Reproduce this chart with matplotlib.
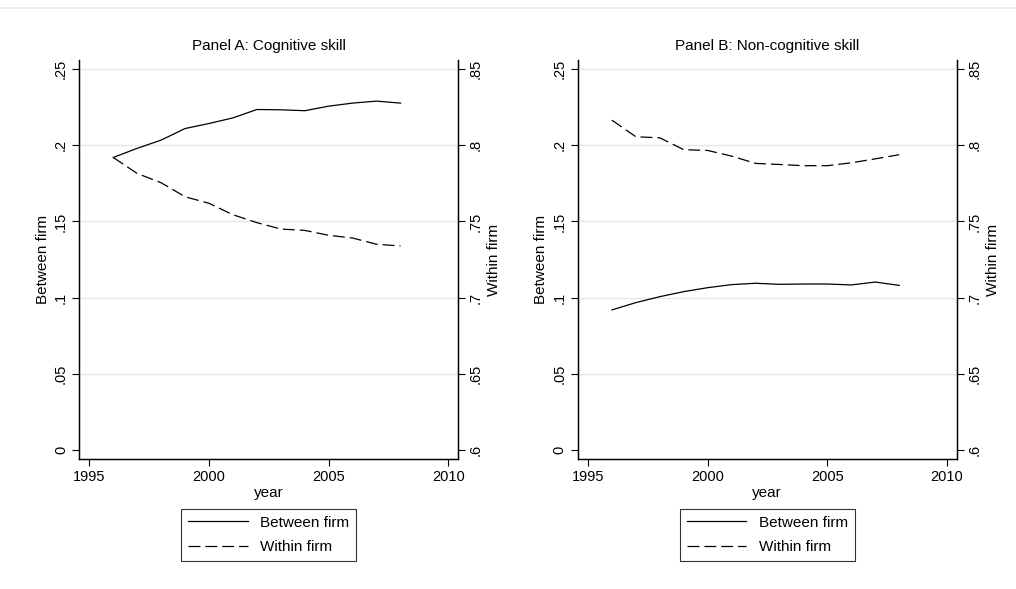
import numpy as np
import matplotlib.pyplot as plt
from matplotlib.lines import Line2D

plt.rcParams['font.family'] = ['Liberation Sans', 'DejaVu Sans']
plt.rcParams['font.size'] = 10

years = [1996, 1997, 1998, 1999, 2000, 2001, 2002, 2003, 2004, 2005, 2006, 2007, 2008]

# Panel A: cognitive skill
cog_between = [0.192, 0.198, 0.2034, 0.211, 0.2143, 0.218, 0.2235, 0.2233, 0.2227, 0.2257, 0.2277, 0.229, 0.2277]
cog_within = [0.792, 0.7815, 0.7754, 0.7662, 0.7619, 0.7544, 0.7492, 0.745, 0.7441, 0.7409, 0.7391, 0.735, 0.7339]

# Panel B: non-cognitive skill
noncog_between = [0.0919, 0.0967, 0.1006, 0.1039, 0.1065, 0.1085, 0.1094, 0.1087, 0.1089, 0.1089, 0.1083, 0.1102, 0.108]
noncog_within = [0.8165, 0.8056, 0.8049, 0.7971, 0.7966, 0.7929, 0.7881, 0.7874, 0.7866, 0.7866, 0.7885, 0.7911, 0.7938]

titles = ['Panel A: Cognitive skill', 'Panel B: Non-cognitive skill']
between_ticks = [0, 0.05, 0.1, 0.15, 0.2, 0.25]
between_labels = ['0', '.05', '.1', '.15', '.2', '.25']
within_ticks = [0.6, 0.65, 0.7, 0.75, 0.8, 0.85]
within_labels = ['.6', '.65', '.7', '.75', '.8', '.85']
year_ticks = [1995, 2000, 2005, 2010]

dash = (9.5, 4)

fig = plt.figure(figsize=(10.16, 5.89), dpi=100)
fig.add_artist(Line2D([0, 1], [1 - 8 / 589, 1 - 8 / 589], color='#e4eaee', lw=1.2))

panels = [(cog_between, cog_within), (noncog_between, noncog_within)]
lefts = [79 / 1016, 577.7 / 1016]
width = 379 / 1016
bottom = 1 - 459 / 589
height = 399 / 589

for i, (between, within) in enumerate(panels):
    ax = fig.add_axes([lefts[i], bottom, width, height])
    ax2 = ax.twinx()

    ax.set_xlim(1994.57, 2010.4)
    ax.set_ylim(-0.006, 0.256)
    ax2.set_ylim(0.594, 0.856)

    for y in between_ticks[1:]:
        ax.axhline(y, color='#e6e6e6', lw=1.0, zorder=0)

    ax.plot(years, between, color='black', lw=0.9)
    ln, = ax2.plot(years, within, color='black', lw=0.9)
    ln.set_dashes(dash)

    ax.set_xticks(year_ticks)
    ax.set_yticks(between_ticks)
    ax.set_yticklabels(between_labels, rotation=90, va='center')
    ax2.set_yticks(within_ticks)
    ax2.set_yticklabels(within_labels, rotation=90, va='center')

    for a in (ax, ax2):
        a.spines['top'].set_visible(False)
        for s in ('left', 'right', 'bottom'):
            a.spines[s].set_linewidth(0.9)
        a.tick_params(direction='out', length=5, width=0.8, labelsize=10.5, pad=3)

    ax.set_xlabel('year', fontsize=11, labelpad=1)
    ax.set_ylabel('Between firm', fontsize=11, labelpad=3)
    ax2.set_ylabel('Within firm', fontsize=11, labelpad=3)
    ax.set_title(titles[i], fontsize=11, pad=7)

    handles = [Line2D([], [], color='black', lw=0.9),
               Line2D([], [], color='black', lw=0.9, dashes=dash)]
    leg = ax.legend(handles, ['Between firm', 'Within firm'], loc='upper center',
                    bbox_to_anchor=(0.5, -0.125), frameon=True, fancybox=False,
                    edgecolor='black', handlelength=3.9, handletextpad=0.8,
                    borderpad=0.45, labelspacing=0.7, fontsize=11, borderaxespad=0)
    leg.get_frame().set_linewidth(0.8)

fig.savefig('out.png', dpi=100)
